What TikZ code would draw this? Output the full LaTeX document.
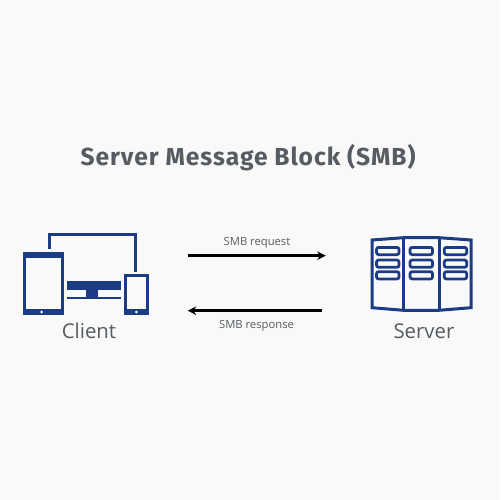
\documentclass[tikz,border=0pt]{standalone}
\usepackage{fontspec}
\setmainfont{Open Sans}
\newfontfamily\titlefont{Fira Sans}
\usepackage{xcolor}
\usetikzlibrary{arrows.meta,positioning,calc}
\definecolor{pagebg}{HTML}{F9F9F9}
\definecolor{iconblue}{HTML}{1B3B85}
\definecolor{textgray}{HTML}{565C61}

\begin{document}
\begin{tikzpicture}[
    x=0.02cm, y=-0.02cm,
    >={Stealth[length=0.17cm, width=0.17cm]},
    solid/.style={fill=iconblue, draw=none, rectangle, inner sep=0pt, outer sep=0pt},
    screen/.style={fill=pagebg, draw=none, rectangle, inner sep=0pt, outer sep=0pt},
    btn/.style={fill=pagebg, draw=none, circle, inner sep=0pt, minimum size=0.06cm},
    wire/.style={draw=iconblue, line width=0.06cm},
    slot/.style={draw=iconblue, line width=0.055cm, rectangle, rounded corners=0.042cm, inner sep=0pt, minimum width=0.45cm, minimum height=0.145cm},
    msg/.style={draw=black, line width=0.05cm, ->},
    caption/.style={text=textgray, font=\fontsize{11.6}{14}\selectfont},
    msglabel/.style={text=textgray, font=\fontsize{6.4}{8}\selectfont}
]
  \useasboundingbox[fill=pagebg] (0,0) rectangle (500,500);

  % Title
  \node[text=textgray, font=\titlefont\fontsize{14}{17}\bfseries\addfontfeatures{LetterSpace=4}] (title) at (248,158) {Server Message Block (SMB)};

  % Client: tablet
  \node[solid, minimum width=0.826cm, minimum height=1.26cm] (tablet) at (43.3,283.8) {};
  \node[screen, minimum width=0.694cm, minimum height=1.02cm] (tabletscreen) at (43.3,283.8) {};
  \node[btn] (tabletbtn) at (41.7,312) {};
  % Client: phone
  \node[solid, minimum width=0.506cm, minimum height=0.82cm] (phone) at (136.3,294.8) {};
  \node[screen, minimum width=0.386cm, minimum height=0.64cm] (phonescreen) at (136.3,293.3) {};
  \node[btn] (phonebtn) at (136.3,312) {};
  % Client: monitor
  \node[solid, minimum width=1.074cm, minimum height=0.192cm] (monitor) at (93.8,285.5) {};
  \node[solid, minimum width=0.246cm, minimum height=0.13cm] (stand) at (92.2,293.5) {};
  \node[solid, minimum width=1.074cm, minimum height=0.054cm] (foot) at (93.8,298) {};
  % Client: link from tablet to phone
  \coordinate (wirestart) at (49,249.3);
  \coordinate (wireend) at (135,271.7);
  \draw[wire] (wirestart) |- (135,234.5) -- (wireend);
  \node[caption] (client) at (89,330.5) {Client};

  % Server: cabinet
  \draw[wire, line join=miter] (372,240) -- (403.5,237.7) -- (439,237.7) -- (471,240) -- (471,307.7)
    -- (439,310.3) -- (403.5,310.3) -- (372,307.7) -- cycle;
  \draw[wire] (403.5,237.7) -- (403.5,310.3);
  \draw[wire] (439,237.7) -- (439,310.3);
  % Server: slots
  \foreach \col/\cx in {a/387.8, b/421.3, c/455.5} {
    \foreach \row/\cy in {1/251, 2/263.7, 3/275.3} {
      \node[slot] (slot\col\row) at (\cx,\cy) {};
    }
  }
  \node[caption] (server) at (424,331.5) {Server};

  % Messages
  \coordinate (reqstart) at (187.7,255.7);
  \coordinate (reqend) at (325.7,255.7);
  \coordinate (respstart) at (321.7,310.7);
  \coordinate (respend) at (187.7,310.7);
  \draw[msg] (reqstart) -- (reqend);
  \draw[msg] (respstart) -- (respend);
  \node[msglabel] (reqlabel) at (257,242.5) {SMB request};
  \node[msglabel] (resplabel) at (256.5,325.5) {SMB response};
\end{tikzpicture}
\end{document}
